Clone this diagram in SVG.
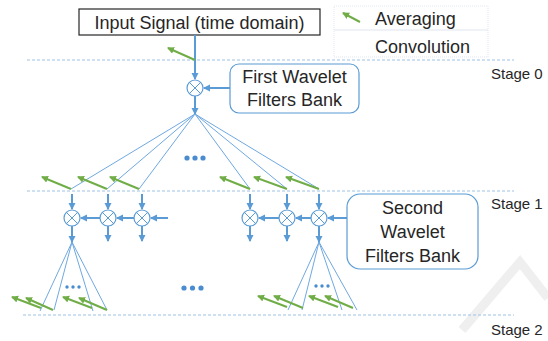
<svg xmlns="http://www.w3.org/2000/svg" width="548" height="341" viewBox="0 0 548 341">
<style>
text{font-family:"Liberation Sans",Arial,sans-serif;fill:#262626}
.t18{font-size:18px}
.t15{font-size:15px}
.stage{stroke:#9DC3E6;stroke-width:1;stroke-dasharray:3 2;fill:none}
.ar{stroke:#5B9BD5;stroke-width:2;fill:none;marker-end:url(#ab)}
.fan{stroke:#6FA8E0;stroke-width:1;fill:none}
.gr{stroke:#70AD47;stroke-width:2;fill:none;marker-end:url(#ag)}
.mul circle{fill:#fff;stroke:#5B9BD5;stroke-width:1.2}
.mul path{stroke:#5B9BD5;stroke-width:1;fill:none}
.box{fill:#fff;stroke:#5B9BD5;stroke-width:1.2}
.dot{fill:#4A8CD0}
</style>
<defs>
<marker id="ab" markerUnits="userSpaceOnUse" markerWidth="8" markerHeight="8" refX="6" refY="3.5" orient="auto"><path d="M0,0 L7,3.5 L0,7 z" fill="#5B9BD5"/></marker>
<marker id="ag" markerUnits="userSpaceOnUse" markerWidth="8" markerHeight="8" refX="6" refY="3.5" orient="auto"><path d="M0,0 L7,3.5 L0,7 z" fill="#70AD47"/></marker>
<g id="mulsym" class="mul"><circle cx="0" cy="0" r="8"/><path d="M-5.6,-5.6 L5.6,5.6 M-5.6,5.6 L5.6,-5.6"/></g>
</defs>
<path d="M462,330 L520,262 L548,298" stroke="#efefef" stroke-width="9" fill="none"/>
<g id="stage-lines">
<line class="stage" x1="27" y1="60" x2="514" y2="60"/>
<line class="stage" x1="27" y1="191" x2="514" y2="191"/>
<line class="stage" x1="23" y1="315" x2="514" y2="315"/>
</g>
<g id="legend">
<rect x="334" y="6" width="154" height="24" fill="none" stroke="#dfe6ee" stroke-width="1" stroke-dasharray="1 1"/>
<rect x="334" y="30" width="154" height="27" fill="none" stroke="#dfe6ee" stroke-width="1" stroke-dasharray="1 1"/>
<line class="gr" x1="360" y1="22" x2="343" y2="13"/>
<text class="t18" x="375" y="25">Averaging</text>
<text class="t18" x="375" y="53">Convolution</text>
</g>
<g id="input">
<rect x="79" y="9" width="241" height="26" fill="#fff" stroke="#262626" stroke-width="1.2"/>
<text class="t18" x="199.5" y="29" text-anchor="middle">Input Signal (time domain)</text>
</g>
<g id="first-bank">
<rect class="box" x="230" y="64" width="129" height="49" rx="9"/>
<text class="t18" x="294.5" y="83" text-anchor="middle">First Wavelet</text>
<text class="t18" x="294.5" y="106" text-anchor="middle">Filters Bank</text>
</g>
<g id="second-bank">
<rect class="box" x="347" y="194" width="131" height="75" rx="13"/>
<text class="t18" x="412.5" y="214" text-anchor="middle">Second</text>
<text class="t18" x="412.5" y="238" text-anchor="middle">Wavelet</text>
<text class="t18" x="412.5" y="262" text-anchor="middle">Filters Bank</text>
</g>
<g id="stage-labels">
<text class="t15" x="491" y="79">Stage 0</text>
<text class="t15" x="491" y="209">Stage 1</text>
<text class="t15" x="491" y="335">Stage 2</text>
</g>
<g id="connectors">
<line class="ar" x1="195" y1="35" x2="195" y2="79"/>
<line class="ar" x1="230" y1="88" x2="204" y2="88"/>
<line class="ar" x1="195" y1="96" x2="195" y2="114"/>
<path class="fan" d="M195,114 L71,189 M195,114 L107,189 M195,114 L139,189 M195,114 L250,189 M195,114 L287,189 M195,114 L319,189"/>
<line class="ar" x1="72" y1="194" x2="72" y2="209"/>
<line class="ar" x1="108" y1="194" x2="108" y2="209"/>
<line class="ar" x1="142" y1="194" x2="142" y2="209"/>
<line class="ar" x1="250" y1="194" x2="250" y2="209"/>
<line class="ar" x1="287" y1="194" x2="287" y2="209"/>
<line class="ar" x1="319" y1="194" x2="319" y2="209"/>
<line class="ar" x1="168" y1="218" x2="151" y2="218"/>
<line class="ar" x1="134" y1="218" x2="117" y2="218"/>
<line class="ar" x1="100" y1="218" x2="81" y2="218"/>
<line class="ar" x1="347" y1="218" x2="328" y2="218"/>
<line class="ar" x1="311" y1="218" x2="296" y2="218"/>
<line class="ar" x1="279" y1="218" x2="259" y2="218"/>
<line class="ar" x1="72" y1="226" x2="72" y2="242"/>
<line class="ar" x1="108" y1="226" x2="108" y2="241"/>
<line class="ar" x1="142" y1="226" x2="142" y2="241"/>
<line class="ar" x1="250" y1="226" x2="250" y2="241"/>
<line class="ar" x1="287" y1="226" x2="287" y2="241"/>
<line class="ar" x1="319" y1="226" x2="319" y2="242"/>
<path class="fan" d="M72,242 L40,311 M72,242 L54,310 M72,242 L93,311 M72,242 L107,310"/>
<path class="fan" d="M319,242 L288,310 M319,242 L302,310 M319,242 L342,310 M319,242 L357,310"/>
<line class="gr" x1="195" y1="60" x2="168" y2="48"/>
<line class="gr" x1="71" y1="189" x2="42" y2="177"/>
<line class="gr" x1="107" y1="189" x2="78" y2="177"/>
<line class="gr" x1="139" y1="189" x2="110" y2="177"/>
<line class="gr" x1="250" y1="189" x2="220" y2="177"/>
<line class="gr" x1="287" y1="189" x2="254" y2="177"/>
<line class="gr" x1="319" y1="189" x2="286" y2="177"/>
<line class="gr" x1="41" y1="308" x2="12" y2="297"/>
<line class="gr" x1="53" y1="310" x2="26" y2="298"/>
<line class="gr" x1="92" y1="308" x2="63" y2="297"/>
<line class="gr" x1="107" y1="310" x2="79" y2="298"/>
<line class="gr" x1="287" y1="307" x2="258" y2="296"/>
<line class="gr" x1="303" y1="308" x2="274" y2="296"/>
<line class="gr" x1="338" y1="307" x2="309" y2="296"/>
<line class="gr" x1="353" y1="308" x2="325" y2="296"/>
</g>
<g id="mul-0"><use href="#mulsym" x="195" y="88"/></g>
<g id="mul-1a"><use href="#mulsym" x="72" y="218"/></g>
<g id="mul-1b"><use href="#mulsym" x="108" y="218"/></g>
<g id="mul-1c"><use href="#mulsym" x="142" y="218"/></g>
<g id="mul-1d"><use href="#mulsym" x="250" y="218"/></g>
<g id="mul-1e"><use href="#mulsym" x="287" y="218"/></g>
<g id="mul-1f"><use href="#mulsym" x="319" y="218"/></g>
<g id="ellipses">
<circle class="dot" cx="187" cy="158" r="2.6"/><circle class="dot" cx="195" cy="158" r="2.6"/><circle class="dot" cx="203" cy="158" r="2.6"/>
<circle class="dot" cx="184" cy="288" r="2.6"/><circle class="dot" cx="192.5" cy="288" r="2.6"/><circle class="dot" cx="201" cy="288" r="2.6"/>
<circle class="dot" cx="67" cy="287" r="1.7"/><circle class="dot" cx="73" cy="287" r="1.7"/><circle class="dot" cx="79" cy="287" r="1.7"/>
<circle class="dot" cx="316" cy="286" r="1.7"/><circle class="dot" cx="322" cy="286" r="1.7"/><circle class="dot" cx="328" cy="286" r="1.7"/>
</g>
</svg>
